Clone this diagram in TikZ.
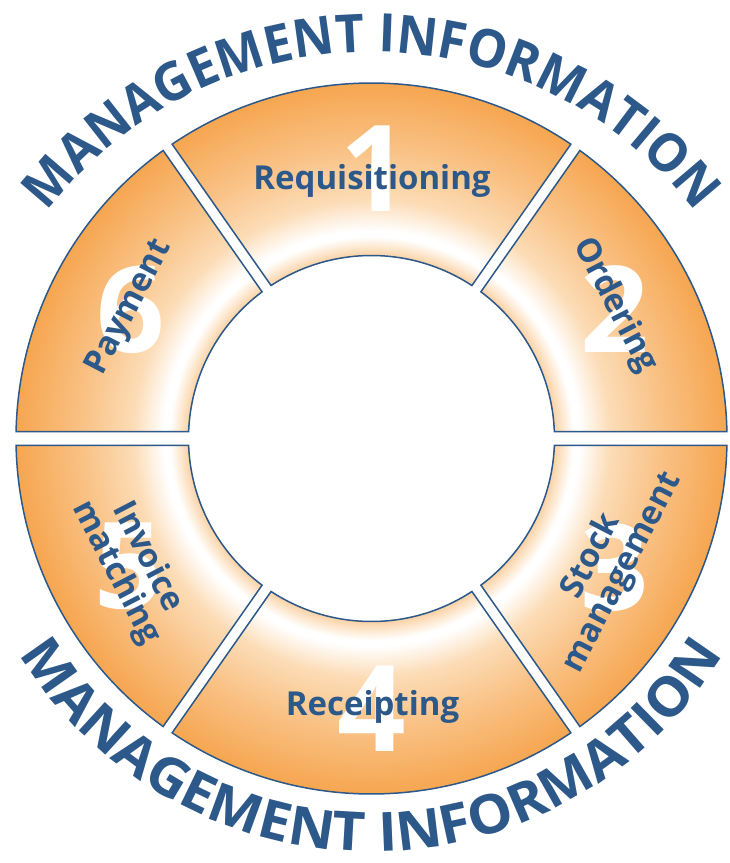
\documentclass[tikz,border=0pt]{standalone}
\usepackage{fontspec}
\setmainfont{Open Sans}
\newfontfamily\arcfont{Open Sans}[FakeStretch=0.95]
\newfontfamily\arcfontB{Open Sans}[FakeStretch=1.05]
\usetikzlibrary{decorations.text,calc}
\definecolor{miblue}{RGB}{44,88,138}
\definecolor{ringor}{RGB}{246,166,80}
\definecolor{ringin}{RGB}{250,210,165}
\definecolor{ringmid}{RGB}{253,232,208}
\definecolor{ringa}{RGB}{252,220,182}
\definecolor{ringb}{RGB}{249,194,134}
\pgfdeclareradialshading{ringshade}{\pgfpoint{0bp}{0bp}}{%
  color(0bp)=(white);
  color(12.87bp)=(ringin);
  color(13.5bp)=(ringmid);
  color(14.2bp)=(white);
  color(14.6bp)=(white);
  color(16.8bp)=(ringa);
  color(20.3bp)=(ringb);
  color(25bp)=(ringor);
  color(50bp)=(ringor)}
\def\RingOut{355.5}
\def\RingIn{183}
\newcommand{\ringseg}[4]{%
  \pgfmathsetmacro{\segOA}{#1+asin(#3/\RingOut)}%
  \pgfmathsetmacro{\segOB}{#2-asin(#4/\RingOut)}%
  \pgfmathsetmacro{\segIA}{#1+asin(#3/\RingIn)}%
  \pgfmathsetmacro{\segIB}{#2-asin(#4/\RingIn)}%
  \begin{scope}
    \clip (\segOA:\RingOut) arc[start angle=\segOA,end angle=\segOB,radius=\RingOut]
      -- (\segIB:\RingIn) arc[start angle=\segIB,end angle=\segIA,radius=\RingIn] -- cycle;
    \shade[shading=ringshade] (0,0) circle[radius=\RingOut];
  \end{scope}
  \draw[segline] (\segOA:\RingOut) arc[start angle=\segOA,end angle=\segOB,radius=\RingOut]
      -- (\segIB:\RingIn) arc[start angle=\segIB,end angle=\segIA,radius=\RingIn] -- cycle;
}
\tikzset{
  segline/.style={draw=miblue, line width=1.5pt, line join=miter},
  bignum/.style={text=white, inner sep=0pt, font=\fontsize{120}{120}\selectfont\bfseries},
  steplabel/.style={text=miblue, inner sep=0pt, align=center, font=\fontsize{33}{35}\selectfont\bfseries},
  arctext/.style={decorate, decoration={text along path, text align=center, text color=miblue,
     text={|\arcfont\fontsize{53}{60}\selectfont\bfseries|MANAGEMENT INFORMATION}}},
  arctextb/.style={decorate, decoration={text along path, text align=center, text color=miblue,
     text={|\arcfontB\fontsize{54}{60}\selectfont\bfseries|MANAGEMENT INFORMATION}}}
}
\begin{document}
\begin{tikzpicture}[x=1pt,y=1pt]
\useasboundingbox (-371.5,-424.5) rectangle (358.5,438.5);
% ring segments
\ringseg{0}{55}{7}{5.5}
\ringseg{55}{125}{5.5}{5.5}
\ringseg{125}{180}{5.5}{7}
\ringseg{180}{235}{7}{5.5}
\ringseg{235}{305}{5.5}{5.5}
\ringseg{305}{360}{5.5}{7}
% big numbers
\node[bignum] (n1) at (3,270) {1};
\node[bignum] (n2) at (243,129) {2};
\node[bignum] (n3) at (243,-129) {3};
\node[bignum] (n4) at (0,-270) {4};
\node[bignum] (n5) at (-243,-128) {5};
\node[bignum] (n6) at (-241,129) {6};
% labels
\node[steplabel, anchor=base] (req) at (0.5,249.5) {Requisitioning};
\node[steplabel, rotate=-62.5] (ord) at (243.5,133.5) {Ordering};
\node[steplabel, rotate=62.5] (stk) at (236,-126) {Stock\\management};
\node[steplabel, rotate=-62.5] (inv) at (-240,-126.5) {Invoice\\matching};
\node[steplabel, anchor=base] (rec) at (1,-276.5) {Receipting};
\node[steplabel, rotate=62.5] (pay) at (-241.5,130.5) {Payment};
% arc texts
\coordinate (tc) at (0,-21.5);
\coordinate (bc) at (0,0);
\path[arctext] ($(tc)+(150:408)$) arc[start angle=150,end angle=30,radius=408];
\path[arctextb] ($(bc)+(205:413)$) arc[start angle=205,end angle=335,radius=413];
\end{tikzpicture}
\end{document}
